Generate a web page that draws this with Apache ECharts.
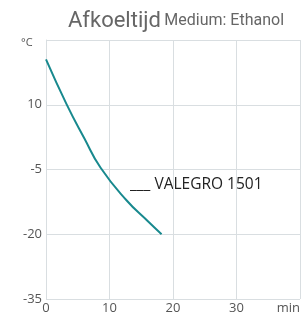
<!DOCTYPE html>
<html><head><meta charset="utf-8">
<script src="https://cdn.jsdelivr.net/npm/echarts@6/dist/echarts.min.js"></script>
<style>html,body{margin:0;padding:0;background:#fff}#c{width:307px;height:315px}</style>
</head><body><div id="c"></div>
<script>
const timeMin = [0, 3.25, 6.05, 8.6, 12.6, 16.05, 18.2];
const tempC = [20.5, 10.1, 2.2, -4.6, -12.0, -17.0, -20];
const xTicks = [0, 10, 20, 30, 40];
const yTicks = [-35, -20, -5, 10, 25];
const seriesName = 'VALEGRO 1501';

const chart = echarts.init(document.getElementById('c'));
chart.setOption({
  animation: false,
  grid: {left: 46, right: 7, top: 40, bottom: 16},
  graphic: [
    {type: 'text', left: 68, top: 10, style: {
      text: '{a|Afkoeltijd} {b|Medium: Ethanol}',
      rich: {
        a: {fontFamily: 'Roboto', fontSize: 22, fill: '#666'},
        b: {fontFamily: 'Roboto', fontSize: 16, fill: '#666'}
      }}},
    {type: 'text', left: 21, top: 37, style: {text: '°C', fontFamily: 'Open Sans', fontSize: 11, fill: '#555'}},
    {type: 'text', left: 130, top: 177, style: {text: '___ ' + seriesName, fontFamily: 'Open Sans', fontSize: 15.5, fill: '#222'}}
  ],
  xAxis: {
    type: 'value', min: xTicks[0], max: xTicks[xTicks.length - 1], interval: 10,
    axisLine: {show: false}, axisTick: {show: false},
    splitLine: {show: true, lineStyle: {color: '#d9dee1', width: 1}},
    axisLabel: {
      margin: 3, color: '#555', fontFamily: 'Open Sans', fontSize: 13,
      alignMaxLabel: 'right',
      formatter: v => v === 40 ? 'min' : String(v)
    }
  },
  yAxis: {
    type: 'value', min: yTicks[0], max: yTicks[yTicks.length - 1], interval: 15,
    axisLine: {show: true, lineStyle: {color: '#d9dee1', width: 1}}, axisTick: {show: false},
    splitLine: {show: true, lineStyle: {color: '#d9dee1', width: 1}},
    axisLabel: {
      margin: 4, color: '#555', fontFamily: 'Open Sans', fontSize: 13,
      formatter: v => v === 25 ? '' : String(v)
    }
  },
  series: [{
    name: seriesName, type: 'line', smooth: 0.5, symbol: 'none',
    data: timeMin.map((t, i) => [t, tempC[i]]),
    lineStyle: {color: '#18898e', width: 2}
  }]
});
</script></body></html>
